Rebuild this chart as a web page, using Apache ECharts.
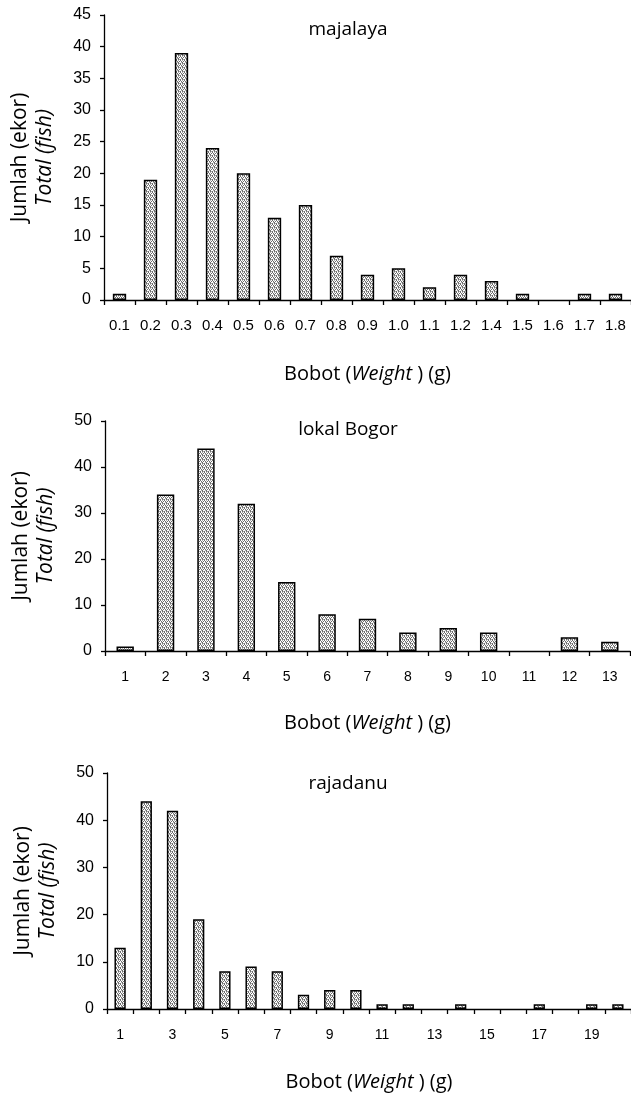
<!DOCTYPE html>
<html>
<head>
<meta charset="utf-8">
<script src="https://cdn.jsdelivr.net/npm/echarts@6/dist/echarts.min.js"></script>
<style>html,body{margin:0;padding:0;background:#fff}#c{width:631px;height:1099px}</style>
</head>
<body>
<div id="c"></div>
<script>
// ---- data ----
const catMajalaya = ['0.1','0.2','0.3','0.4','0.5','0.6','0.7','0.8','0.9','1.0','1.1','1.2','1.4','1.5','1.6','1.7','1.8'];
const valMajalaya = [1,19,39,24,20,13,15,7,4,5,2,4,3,1,0,1,1];
const catBogor = ['1','2','3','4','5','6','7','8','9','10','11','12','13'];
const valBogor = [1,34,44,32,15,8,7,4,5,4,0,3,2];
const catRajadanu = ['1','2','3','4','5','6','7','8','9','10','11','12','13','14','15','16','17','18','19','20'];
const valRajadanu = [13,44,42,19,8,9,8,3,4,4,1,1,0,1,0,0,1,0,1,1];
const titles = ['majalaya','lokal Bogor','rajadanu'];
const yMax = [45,50,50];
const yStep = [5,10,10];

// ---- pattern fill ----
const pc = document.createElement('canvas');
pc.width = 4; pc.height = 4;
const px = pc.getContext('2d');
px.fillStyle = '#ffffff'; px.fillRect(0,0,4,4);
px.fillStyle = '#6e6e6e';
[[0,0],[1,1],[3,1],[2,2],[0,3],[2,3]].forEach(p=>px.fillRect(p[0],p[1],1,1));
px.fillStyle = '#b0b0b0';
[[2,0],[1,2],[3,3]].forEach(p=>px.fillRect(p[0],p[1],1,1));
const fill = {image: pc, repeat: 'repeat'};

const grids = [
  {left:104, top:15, width:535, height:285},
  {left:105, top:421, width:525, height:230},
  {left:107, top:773, width:530, height:236}
];
const cats = [catMajalaya, catBogor, catRajadanu];
const vals = [valMajalaya, valBogor, valRajadanu];
const titleTops = [20, 420, 774];
const labelFont = ["Liberation Sans","Arial",'sans-serif'].join(',');
const textFont = "'Open Sans', sans-serif";

const option = {
  animation: false,
  backgroundColor: '#fff',
  title: titles.map((t,i)=>({
    text: t, left: 348, top: titleTops[i], textAlign: 'center', padding: 0,
    textStyle: {fontFamily: textFont, fontSize: 19, fontWeight: 'normal', color: '#000'}
  })),
  grid: grids,
  xAxis: cats.map((c,i)=>({
    type: 'category', gridIndex: i, data: c, boundaryGap: true,
    axisLine: {lineStyle: {color: '#000', width: 1.3}},
    axisTick: {show: true, interval: 0, alignWithLabel: false, length: 5, lineStyle: {color: '#000', width: 1.3}},
    axisLabel: {interval: i === 2 ? 1 : 0, margin: i === 0 ? 18 : 19, color: '#000', fontFamily: labelFont, fontSize: i === 0 ? 15 : 14},
    name: '{n|Bobot (}{i|Weight }{n|) (g)}',
    nameLocation: 'middle', nameGap: [64, 62, 63][i],
    nameTextStyle: {rich: {
      n: {fontFamily: textFont, fontSize: 20, color: '#000'},
      i: {fontFamily: textFont, fontSize: 20, fontStyle: 'italic', color: '#000'}
    }}
  })),
  yAxis: yMax.map((m,i)=>({
    type: 'value', gridIndex: i, min: 0, max: m, interval: yStep[i],
    splitLine: {show: false},
    axisLine: {show: true, lineStyle: {color: '#000', width: 1.3}},
    axisTick: {show: true, length: 4, lineStyle: {color: '#000', width: 1.3}},
    axisLabel: {margin: 13, color: '#000', fontFamily: labelFont, fontSize: 16},
    name: '{a|Jumlah (ekor)}\n{b|Total (fish)}',
    nameLocation: 'middle', nameRotate: 90, nameGap: 46,
    nameTextStyle: {align: 'center', rich: {
      a: {fontFamily: textFont, fontSize: 21, lineHeight: 25, color: '#000'},
      b: {fontFamily: textFont, fontSize: 21, lineHeight: 25, fontStyle: 'italic', color: '#000'}
    }}
  })),
  series: vals.map((v,i)=>({
    type: 'bar', xAxisIndex: i, yAxisIndex: i,
    data: v.map(x => x === 0 ? {value: 0, itemStyle: {borderWidth: 0, opacity: 0}} : x),
    barWidth: '43%',
    itemStyle: {color: fill, borderColor: '#000', borderWidth: 1.5}
  }))
};
const chart = echarts.init(document.getElementById('c'), null, {renderer: 'canvas'});
chart.setOption(option);
</script>
</body>
</html>
